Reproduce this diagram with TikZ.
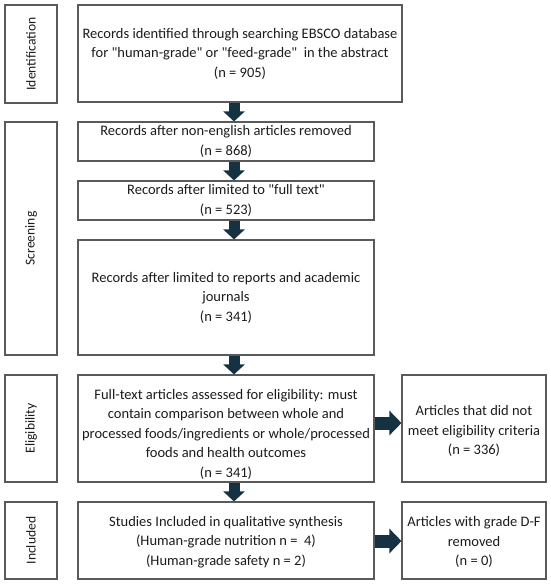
\documentclass[tikz,border=0pt]{standalone}
\usepackage{fontspec}
\setmainfont{Carlito}
\newfontfamily\bodyfont{Carlito}
\usetikzlibrary{arrows.meta}
\definecolor{boxline}{RGB}{90,90,90}
\definecolor{txt}{RGB}{28,28,28}
\definecolor{arrowc}{RGB}{22,50,66}
\tikzset{
  box/.style={draw=boxline, line width=1.1pt, fill=white, align=center, text=txt,
    inner sep=0pt, font=\bodyfont\fontsize{14.5}{19.5}\selectfont},
  btext/.style={align=center, text=txt, font=\bodyfont\fontsize{14.5}{19.5}\selectfont, inner sep=0pt},
  phase/.style={box, rotate=90, font=\bodyfont\fontsize{13.6}{16}\selectfont},
  varr/.style={draw=arrowc, line width=11pt, -{Triangle[width=21pt,length=10pt]}, arrowc},
  harr/.style={draw=arrowc, line width=13pt, -{Triangle[width=24pt,length=12pt]}, arrowc},
}
\begin{document}
\begin{tikzpicture}[x=1pt,y=-1pt]
\useasboundingbox (0,0) rectangle (550,584);
% phase labels
\node[phase, minimum width=98pt, minimum height=52pt] (l1) at (31,54) {Identification};
\node[phase, minimum width=233pt, minimum height=52pt] (l2) at (31,238.5) {Screening};
\node[phase, minimum width=107pt, minimum height=52pt] (l3) at (31,428.5) {Eligibility};
\node[phase, minimum width=77pt, minimum height=52pt] (l4) at (31,540.5) {Included};
% main boxes
\node[box, minimum width=324pt, minimum height=97pt] (b1) at (240,53.5) {Records identified through searching EBSCO database\\for "human-grade" or "feed-grade"\ \ in the abstract\\(n = 905)};
\node[box, minimum width=296pt, minimum height=39pt] (b2) at (226,141.5) {Records after non-english articles removed\\(n = 868)};
\node[box, minimum width=296pt, minimum height=39pt] (b3) at (226,200.5) {Records after limited to "full text"\\(n = 523)};
\node[box, minimum width=296pt, minimum height=115pt] (b4) at (226,297.5) {Records after limited to reports and academic\\journals\\(n = 341)};
\node[box, minimum width=296pt, minimum height=107pt] (b5) at (226,428.5) {};
\node[btext] (b5t) at (226,434) {Full-text articles assessed for eligibility: must\\contain comparison between whole and\\processed foods/ingredients or whole/processed\\foods and health outcomes\\(n = 341)};
\node[box, minimum width=296pt, minimum height=77pt] (b6) at (226,540.5) {};
\node[btext] (b6t) at (226,542) {Studies Included in qualitative synthesis\\(Human-grade nutrition n =\ \ 4)\\(Human-grade safety n = 2)};
\node[box, minimum width=144pt, minimum height=107pt] (r1) at (474,428.5) {};
\node[btext] (r1t) at (474,431) {Articles that did not\\meet eligibility criteria\\(n = 336)};
\node[box, minimum width=144pt, minimum height=77pt] (r2) at (474,540.5) {};
\node[btext] (r2t) at (474,542) {Articles with grade D-F\\removed\\(n = 0)};
% arrows
\coordinate (ax) at (234,0);
\draw[varr] (b1.south -| ax) -- (b2.north -| ax);
\draw[varr] (b2.south -| ax) -- (b3.north -| ax);
\draw[varr] (b3.south -| ax) -- (b4.north -| ax);
\draw[varr] (b4.south -| ax) -- (b5.north -| ax);
\draw[varr] (b5.south -| ax) -- (b6.north -| ax);
\coordinate (ay1) at (0,423);
\coordinate (ay2) at (0,541);
\draw[harr] (b5.east |- ay1) -- (r1.west |- ay1);
\draw[harr] (b6.east |- ay2) -- (r2.west |- ay2);
\end{tikzpicture}
\end{document}
